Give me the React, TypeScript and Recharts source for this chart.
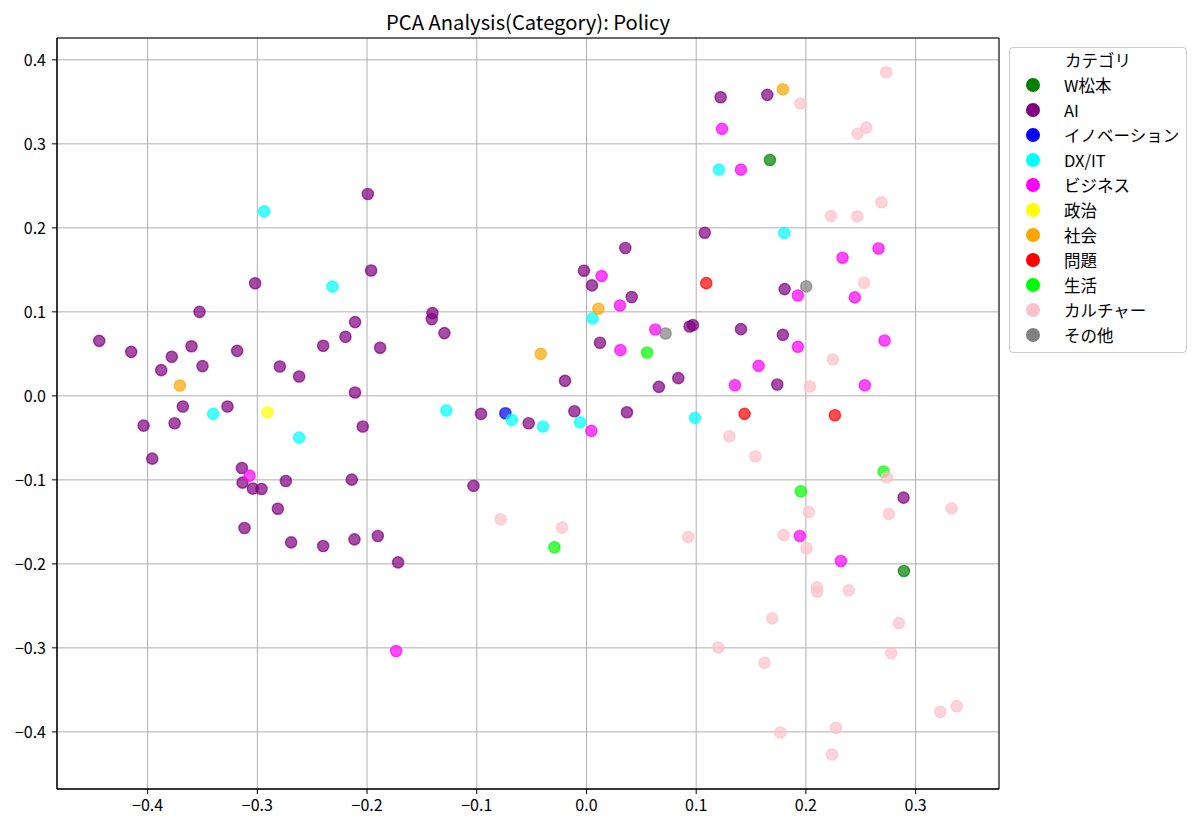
import React from "react";
import {
  ScatterChart,
  Scatter,
  XAxis,
  YAxis,
  CartesianGrid,
  ReferenceArea,
} from "recharts";

const FONT = '"Noto Sans CJK JP", "Noto Sans", sans-serif';

const categories = [
  "W松本",
  "AI",
  "イノベーション",
  "DX/IT",
  "ビジネス",
  "政治",
  "社会",
  "問題",
  "生活",
  "カルチャー",
  "その他",
];

const colors = [
  "#008000",
  "#800080",
  "#0000ff",
  "#00ffff",
  "#ff00ff",
  "#ffff00",
  "#ffa500",
  "#ff0000",
  "#00ff00",
  "#ffc0cb",
  "#808080",
];

type P = { x: number; y: number };

const wMatsumoto: P[] = [
  { x: 0.1672, y: 0.2808 },
  { x: 0.2893, y: -0.2085 },
];

const ai: P[] = [
  { x: -0.302, y: 0.134 }, { x: -0.3527, y: 0.1 }, { x: -0.4441, y: 0.0655 },
  { x: -0.415, y: 0.0524 }, { x: -0.378, y: 0.0465 }, { x: -0.36, y: 0.059 },
  { x: -0.3184, y: 0.0536 }, { x: -0.3876, y: 0.0306 }, { x: -0.35, y: 0.0354 },
  { x: -0.2795, y: 0.035 }, { x: -0.2619, y: 0.023 }, { x: -0.24, y: 0.0596 },
  { x: -0.2197, y: 0.0703 }, { x: -0.2109, y: 0.0878 }, { x: -0.211, y: 0.004 },
  { x: -0.3679, y: -0.0127 }, { x: -0.3272, y: -0.0127 }, { x: -0.4037, y: -0.0354 },
  { x: -0.3754, y: -0.0326 }, { x: -0.2039, y: -0.0365 }, { x: -0.3958, y: -0.0747 },
  { x: -0.3141, y: -0.0858 }, { x: -0.3135, y: -0.1033 }, { x: -0.3041, y: -0.1104 },
  { x: -0.2962, y: -0.1108 }, { x: -0.274, y: -0.1013 }, { x: -0.2139, y: -0.0997 },
  { x: -0.2813, y: -0.1343 }, { x: -0.3117, y: -0.1573 }, { x: -0.2692, y: -0.1744 },
  { x: -0.24, y: -0.1787 }, { x: -0.2115, y: -0.1708 }, { x: -0.1902, y: -0.1668 },
  { x: -0.1717, y: -0.1982 }, { x: -0.1993, y: 0.2403 }, { x: -0.1963, y: 0.1493 },
  { x: -0.1881, y: 0.0572 }, { x: -0.1404, y: 0.0985 }, { x: -0.141, y: 0.0914 },
  { x: -0.1295, y: 0.0747 }, { x: -0.0961, y: -0.0215 }, { x: -0.0527, y: -0.0326 },
  { x: -0.0196, y: 0.0179 }, { x: -0.011, y: -0.0183 }, { x: -0.0023, y: 0.149 },
  { x: 0.005, y: 0.1315 }, { x: 0.0354, y: 0.176 }, { x: 0.0412, y: 0.1176 },
  { x: 0.0123, y: 0.0632 }, { x: 0.066, y: 0.0107 }, { x: 0.0369, y: -0.0195 },
  { x: -0.103, y: -0.1072 }, { x: 0.094, y: 0.0826 }, { x: 0.097, y: 0.0842 },
  { x: 0.0837, y: 0.0211 }, { x: 0.1408, y: 0.0794 }, { x: 0.179, y: 0.0727 },
  { x: 0.1739, y: 0.0135 }, { x: 0.1223, y: 0.3555 }, { x: 0.1648, y: 0.3583 },
  { x: 0.1078, y: 0.1942 }, { x: 0.1806, y: 0.1271 }, { x: 0.289, y: -0.1211 },
];

const innovation: P[] = [{ x: -0.0739, y: -0.0207 }];

const dxit: P[] = [
  { x: -0.2938, y: 0.2196 }, { x: -0.2315, y: 0.13 }, { x: -0.3402, y: -0.0215 },
  { x: -0.2619, y: -0.0497 }, { x: -0.1277, y: -0.0175 }, { x: -0.0681, y: -0.0286 },
  { x: -0.0396, y: -0.0365 }, { x: -0.0059, y: -0.0314 }, { x: 0.0056, y: 0.0922 },
  { x: 0.0989, y: -0.0262 }, { x: 0.1207, y: 0.2693 }, { x: 0.1803, y: 0.1938 },
];

const business: P[] = [
  { x: -0.3071, y: -0.095 }, { x: -0.1735, y: -0.3038 }, { x: 0.0045, y: -0.0417 },
  { x: 0.0138, y: 0.1426 }, { x: 0.0305, y: 0.1076 }, { x: 0.0627, y: 0.079 },
  { x: 0.0309, y: 0.0544 }, { x: 0.1927, y: 0.0584 }, { x: 0.2717, y: 0.0659 },
  { x: 0.1569, y: 0.0357 }, { x: 0.1353, y: 0.0127 }, { x: 0.2537, y: 0.0127 },
  { x: 0.1235, y: 0.3178 }, { x: 0.1408, y: 0.2693 }, { x: 0.2662, y: 0.1755 },
  { x: 0.2334, y: 0.1644 }, { x: 0.1927, y: 0.1195 }, { x: 0.2446, y: 0.1172 },
  { x: 0.1945, y: -0.1668 }, { x: 0.2319, y: -0.1966 },
];

const politics: P[] = [{ x: -0.2907, y: -0.0195 }];

const society: P[] = [
  { x: -0.3706, y: 0.0123 }, { x: -0.0417, y: 0.05 },
  { x: 0.0108, y: 0.1037 }, { x: 0.179, y: 0.365 },
];

const problems: P[] = [
  { x: 0.1092, y: 0.1342 }, { x: 0.1441, y: -0.0214 }, { x: 0.2264, y: -0.023 },
];

const life: P[] = [
  { x: 0.0552, y: 0.0516 }, { x: -0.0292, y: -0.1803 },
  { x: 0.2708, y: -0.0902 }, { x: 0.1954, y: -0.1136 },
];

const culture: P[] = [
  { x: -0.0782, y: -0.1469 }, { x: -0.0223, y: -0.1569 }, { x: 0.0928, y: -0.168 },
  { x: 0.2246, y: 0.0433 }, { x: 0.2036, y: 0.0111 }, { x: 0.1302, y: -0.048 },
  { x: 0.1539, y: -0.0719 }, { x: 0.2732, y: 0.3852 }, { x: 0.1949, y: 0.348 },
  { x: 0.255, y: 0.3193 }, { x: 0.2471, y: 0.3122 }, { x: 0.2689, y: 0.2304 },
  { x: 0.2228, y: 0.2141 }, { x: 0.2468, y: 0.2137 }, { x: 0.2532, y: 0.1346 },
  { x: 0.2738, y: -0.0969 }, { x: 0.3327, y: -0.1338 }, { x: 0.2027, y: -0.1382 },
  { x: 0.2756, y: -0.1406 }, { x: 0.1797, y: -0.1656 }, { x: 0.2006, y: -0.1815 },
  { x: 0.21, y: -0.228 }, { x: 0.2103, y: -0.2332 }, { x: 0.2391, y: -0.2316 },
  { x: 0.1693, y: -0.2649 }, { x: 0.2847, y: -0.2705 }, { x: 0.1201, y: -0.2995 },
  { x: 0.1623, y: -0.3178 }, { x: 0.2778, y: -0.3062 }, { x: 0.3375, y: -0.3694 },
  { x: 0.3224, y: -0.3761 }, { x: 0.2273, y: -0.3952 }, { x: 0.1766, y: -0.4007 },
  { x: 0.2237, y: -0.4269 },
];

const others: P[] = [
  { x: 0.0721, y: 0.0743 }, { x: 0.2003, y: 0.1303 },
];

const seriesData: P[][] = [
  wMatsumoto, ai, innovation, dxit, business, politics,
  society, problems, life, culture, others,
];

const xTicks = [-0.4, -0.3, -0.2, -0.1, 0, 0.1, 0.2, 0.3];
const yTicks = [-0.4, -0.3, -0.2, -0.1, 0, 0.1, 0.2, 0.3, 0.4];
const xDomain: [number, number] = [-0.4826, 0.376];
const yDomain: [number, number] = [-0.468, 0.426];

const title = "PCA Analysis(Category): Policy";
const legendTitle = "カテゴリ";

const fmt = (v: number) =>
  (v < 0 ? "\u2212" : "") + Math.abs(v).toFixed(1);

const makeShape = (color: string) => (props: any) => {
  const { cx, cy } = props;
  if (cx == null || cy == null) return <g />;
  return (
    <circle
      cx={cx}
      cy={cy}
      r={5.6}
      fill={color}
      fillOpacity={0.7}
      stroke={color}
      strokeOpacity={0.7}
      strokeWidth={1.4}
    />
  );
};

const tickStyle = { fill: "#000", fontSize: 16, fontFamily: FONT };

export default function App() {
  return (
    <div style={{ position: "relative", width: 1192, height: 821, fontFamily: FONT }}>
      <div
        style={{
          position: "absolute",
          left: 49,
          width: 942,
          top: 1,
          textAlign: "center",
          fontSize: 20.2,
          lineHeight: "26px",
          color: "#000",
        }}
      >
        {title}
      </div>
      <ScatterChart
        width={1192}
        height={821}
        margin={{ top: 30, right: 201, left: 0, bottom: 0 }}
      >
        <CartesianGrid stroke="#b0b0b0" strokeWidth={1} />
        <XAxis
          type="number"
          dataKey="x"
          domain={xDomain}
          ticks={xTicks}
          allowDataOverflow
          height={40}
          tickFormatter={fmt}
          tick={tickStyle}
          tickSize={5}
          tickMargin={6}
          stroke="#000"
          axisLine={{ stroke: "#000" }}
          tickLine={{ stroke: "#000" }}
        />
        <YAxis
          type="number"
          dataKey="y"
          domain={yDomain}
          ticks={yTicks}
          allowDataOverflow
          width={49}
          tickFormatter={fmt}
          tick={tickStyle}
          tickSize={5}
          tickMargin={6}
          axisLine={{ stroke: "#000" }}
          tickLine={{ stroke: "#000" }}
        />
        {seriesData.map((d, i) => (
          <Scatter
            key={categories[i]}
            name={categories[i]}
            data={d}
            fill={colors[i]}
            shape={makeShape(colors[i])}
            isAnimationActive={false}
          />
        ))}
        <ReferenceArea
          x1={xDomain[0]}
          x2={xDomain[1]}
          y1={yDomain[0]}
          y2={yDomain[1]}
          fill="none"
          fillOpacity={0}
          stroke="#000"
          strokeWidth={1}
          ifOverflow="visible"
        />
      </ScatterChart>
      <div
        style={{
          position: "absolute",
          left: 1001,
          top: 38.7,
          width: 178,
          height: 306,
          boxSizing: "border-box",
          border: "1px solid #cccccc",
          borderRadius: 4,
          background: "rgba(255,255,255,0.8)",
          fontSize: 16.5,
          color: "#000",
        }}
      >
        <div
          style={{
            position: "absolute",
            left: 0,
            right: 0,
            top: 0.5,
            textAlign: "center",
            lineHeight: "24px",
          }}
        >
          {legendTitle}
        </div>
        {categories.map((c, i) => (
          <div
            key={c}
            style={{
              position: "absolute",
              left: 0,
              top: 25.5 + 25 * i,
              height: 24,
              width: 178,
            }}
          >
            <div
              style={{
                position: "absolute",
                left: 15.5,
                top: 5,
                width: 14,
                height: 14,
                borderRadius: 7,
                background: colors[i],
              }}
            />
            <div
              style={{
                position: "absolute",
                left: 54,
                top: 0,
                lineHeight: "24px",
                whiteSpace: "nowrap",
              }}
            >
              {c}
            </div>
          </div>
        ))}
      </div>
    </div>
  );
}
